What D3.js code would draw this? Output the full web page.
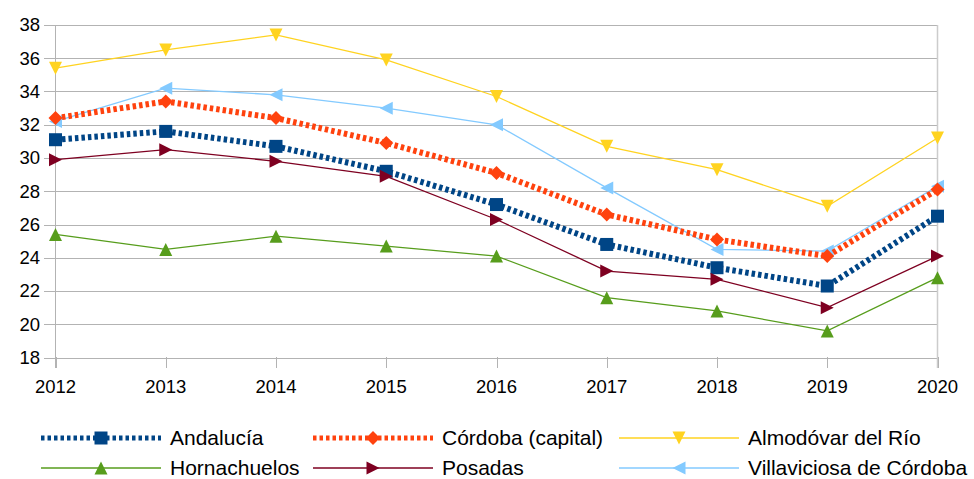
<!DOCTYPE html>
<html><head><meta charset="utf-8">
<script src="https://cdn.jsdelivr.net/npm/d3@7"></script>
<style>body{margin:0;background:#fff;} text{font-family:"Liberation Sans",Arial,sans-serif;}</style>
</head><body><svg id="c" width="974" height="479"></svg>
<script>
const years = [2012,2013,2014,2015,2016,2017,2018,2019,2020];
const yTicks = [18,20,22,24,26,28,30,32,34,36,38];
const andalucia = [31.1,31.6,30.7,29.2,27.2,24.8,23.4,22.3,26.5];
const cordobaCapital = [32.4,33.4,32.4,30.9,29.1,26.6,25.1,24.1,28.1];
const almodovar = [35.4,36.5,37.4,35.9,33.7,30.7,29.3,27.1,31.2];
const hornachuelos = [25.4,24.5,25.3,24.7,24.1,21.6,20.8,19.6,22.8];
const posadas = [29.9,30.5,29.8,28.9,26.3,23.2,22.7,21.0,24.1];
const villaviciosa = [32.2,34.2,33.8,33.0,32.0,28.2,24.5,24.4,28.3];

const series = [
  {name:"Andalucía", values:andalucia, color:"#004586", width:6, dash:"3.5,3", marker:"square"},
  {name:"Córdoba (capital)", values:cordobaCapital, color:"#ff420e", width:6, dash:"3.5,3", marker:"diamond"},
  {name:"Almodóvar del Río", values:almodovar, color:"#ffd320", width:1.3, dash:null, marker:"down"},
  {name:"Hornachuelos", values:hornachuelos, color:"#579d1c", width:1.3, dash:null, marker:"up"},
  {name:"Posadas", values:posadas, color:"#7e0021", width:1.3, dash:null, marker:"right"},
  {name:"Villaviciosa de Córdoba", values:villaviciosa, color:"#83caff", width:1.3, dash:null, marker:"left"}
];
const drawOrder = [2,5,1,0,4,3];

const svg = d3.select("#c");
const x = d3.scalePoint().domain(years).range([55.5, 937.5]);
const y = d3.scaleLinear().domain([18,38]).range([357.5, 25]);

svg.append("g").selectAll("line").data(yTicks).join("line")
  .attr("x1",44).attr("x2",937.5)
  .attr("y1",d=>Math.round(y(d))+0.5).attr("y2",d=>Math.round(y(d))+0.5)
  .attr("stroke","#b3b3b3").attr("stroke-width",1);
svg.append("line").attr("x1",937.5).attr("x2",937.5).attr("y1",25).attr("y2",368)
  .attr("stroke","#cccccc").attr("stroke-width",1.5);
svg.append("line").attr("x1",55.5).attr("x2",55.5).attr("y1",25).attr("y2",368)
  .attr("stroke","#b3b3b3").attr("stroke-width",1);
svg.append("g").selectAll("line").data(years).join("line")
  .attr("x1",d=>Math.round(x(d))+0.5).attr("x2",d=>Math.round(x(d))+0.5)
  .attr("y1",357).attr("y2",368).attr("stroke","#b3b3b3");
svg.append("g").selectAll("text").data(yTicks).join("text")
  .attr("x",40).attr("y",d=>y(d)).attr("dy","0.35em").attr("text-anchor","end")
  .attr("font-size",18.5).attr("fill","#000").text(d=>d);
svg.append("g").selectAll("text").data(years).join("text")
  .attr("x",d=>x(d)).attr("y",387).attr("dy","0.35em").attr("text-anchor","middle")
  .attr("font-size",18.5).attr("fill","#000").text(d=>d);

const sz = 13;
function markerPath(type){
  const h = sz/2;
  switch(type){
    case "square": return `M${-h},${-h}H${h}V${h}H${-h}Z`;
    case "diamond": return `M0,${-h-0.5}L${h+0.5},0L0,${h+0.5}L${-h-0.5},0Z`;
    case "down": return `M${-h},${-h}L${h},${-h}L0,${h}Z`;
    case "up": return `M${-h},${h}L${h},${h}L0,${-h}Z`;
    case "right": return `M${-h},${-h}L${h},0L${-h},${h}Z`;
    case "left": return `M${h},${-h}L${-h},0L${h},${h}Z`;
  }
}

const line = d3.line().x((d,i)=>x(years[i])).y(d=>y(d));
drawOrder.forEach(k=>{
  const s = series[k];
  const g = svg.append("g");
  g.append("path").attr("d",line(s.values)).attr("fill","none")
    .attr("stroke",s.color).attr("stroke-width",s.width)
    .attr("stroke-dasharray",s.dash);
  g.selectAll("path.m").data(s.values).join("path").attr("class","m")
    .attr("transform",(d,i)=>`translate(${x(years[i])},${y(d)})`)
    .attr("d",markerPath(s.marker)).attr("fill",s.color);
});

const legCols = [41,313,619];
const legRows = [438,468];
series.forEach((s,i)=>{
  const cx = legCols[i%3], cy = legRows[Math.floor(i/3)];
  const g = svg.append("g").attr("transform",`translate(${cx},${cy})`);
  g.append("line").attr("x1",0).attr("x2",120).attr("y1",0).attr("y2",0)
    .attr("stroke",s.color).attr("stroke-width",s.width===6?5:s.width).attr("stroke-dasharray",s.dash);
  g.append("path").attr("transform","translate(60,0)").attr("d",markerPath(s.marker)).attr("fill",s.color);
  g.append("text").attr("x",129).attr("y",0).attr("dy","0.35em").attr("font-size",21)
    .attr("fill","#000").text(s.name);
});
</script></body></html>
